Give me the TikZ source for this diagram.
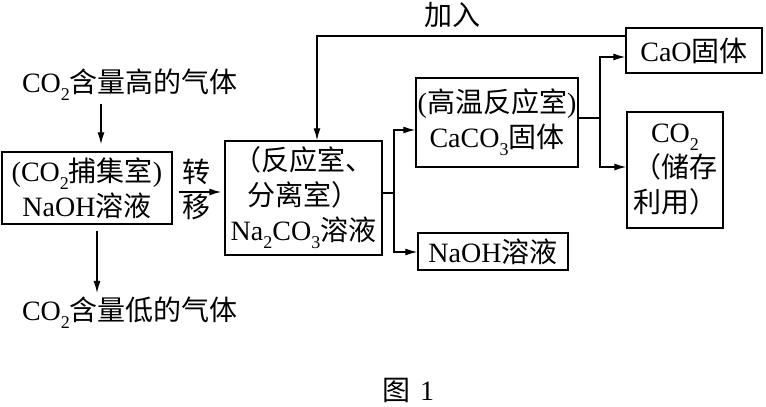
\documentclass[tikz,border=0pt]{standalone}
\usepackage{fontspec}
\setmainfont{Liberation Serif}
\newfontfamily\cjk{Noto Sans CJK SC}
\newcommand\zh[1]{{\cjk #1}}
\newcommand\sbs[1]{\raisebox{-8pt}{\fontsize{18}{18}\selectfont #1}}
\usetikzlibrary{arrows.meta}
\begin{document}
\begin{tikzpicture}[x=1pt,y=-1pt,
  every node/.style={font=\fontsize{28}{35}\selectfont, inner sep=0pt},
  box/.style={draw, line width=1.4pt, align=center},
  arr/.style={-{Latex[length=12pt,width=7pt]}, line width=1.3pt},
  ln/.style={line width=1.3pt}]
\useasboundingbox (0,0) rectangle (766,407);
\fill[white] (0,0) rectangle (766,407);

% boxes
\node[box, minimum width=170pt, minimum height=72pt] (b1) at (87,188) {(CO\sbs{2}\zh{捕集室})\\NaOH\zh{溶液}};
\node[box, minimum width=157pt, minimum height=114pt] (b2) at (303.5,198) {\zh{（反应室、}\\\zh{分离室）}\\Na\sbs{2}CO\sbs{3}\zh{溶液}};
\node[box, minimum width=162pt, minimum height=89pt] (b3) at (497,122.5) {(\zh{高温反应室})\\CaCO\sbs{3}\zh{固体}};
\node[box, minimum width=136pt, minimum height=45pt] (cao) at (694,50.5) {CaO\zh{固体}};
\node[box, minimum width=96pt, minimum height=116pt] (co2) at (675,170) {CO\sbs{2}\\\zh{（储存}\\\zh{利用）}};
\node[box, minimum width=150pt, minimum height=37pt] (nb) at (493,251.5) {NaOH\zh{溶液}};

% texts
\node (hi) at (130,85) {CO\sbs{2}\zh{含量高的气体}};
\node (lo) at (130,313) {CO\sbs{2}\zh{含量低的气体}};
\node (zhuan) at (196,172) {\zh{转}};
\node (yi) at (196,207) {\zh{移}};
\node (jr) at (452,15) {\zh{加入}};
\node (cap) at (408,390) {\zh{图}\hspace{10pt}1};

% connectors
\coordinate (xa) at (101,0);
\draw[arr, shorten <=3pt, shorten >=7pt] (xa |- hi.south) -- (xa |- b1.north);
\coordinate (xb) at (97,0);
\draw[arr, shorten <=6pt, shorten >=4pt] (xb |- b1.south) -- (xb |- lo.north);
\coordinate (ya) at (0,192);
\draw[arr, shorten <=6pt, shorten >=3pt] (ya -| b1.east) -- (ya -| b2.west);

\coordinate (j1) at (394,193);
\coordinate (s1) at (394,130);
\coordinate (s2) at (394,252);
\draw[ln] (j1 -| b2.east) -- (j1);
\draw[arr] (s2) -- (s1) -- (s1 -| b3.west);
\draw[arr] (s1) -- (s2) -- (s2 -| nb.west);

\coordinate (j2) at (600,118);
\coordinate (t1) at (600,57);
\coordinate (t2) at (600,167);
\draw[ln] (j2 -| b3.east) -- (j2);
\draw[arr] (t2) -- (t1) -- (t1 -| cao.west);
\draw[arr] (t1) -- (t2) -- (t2 -| co2.west);

\coordinate (f) at (317,36);
\draw[arr] (f -| cao.west) -- (f) -- (f |- b2.north);
\end{tikzpicture}
\end{document}
